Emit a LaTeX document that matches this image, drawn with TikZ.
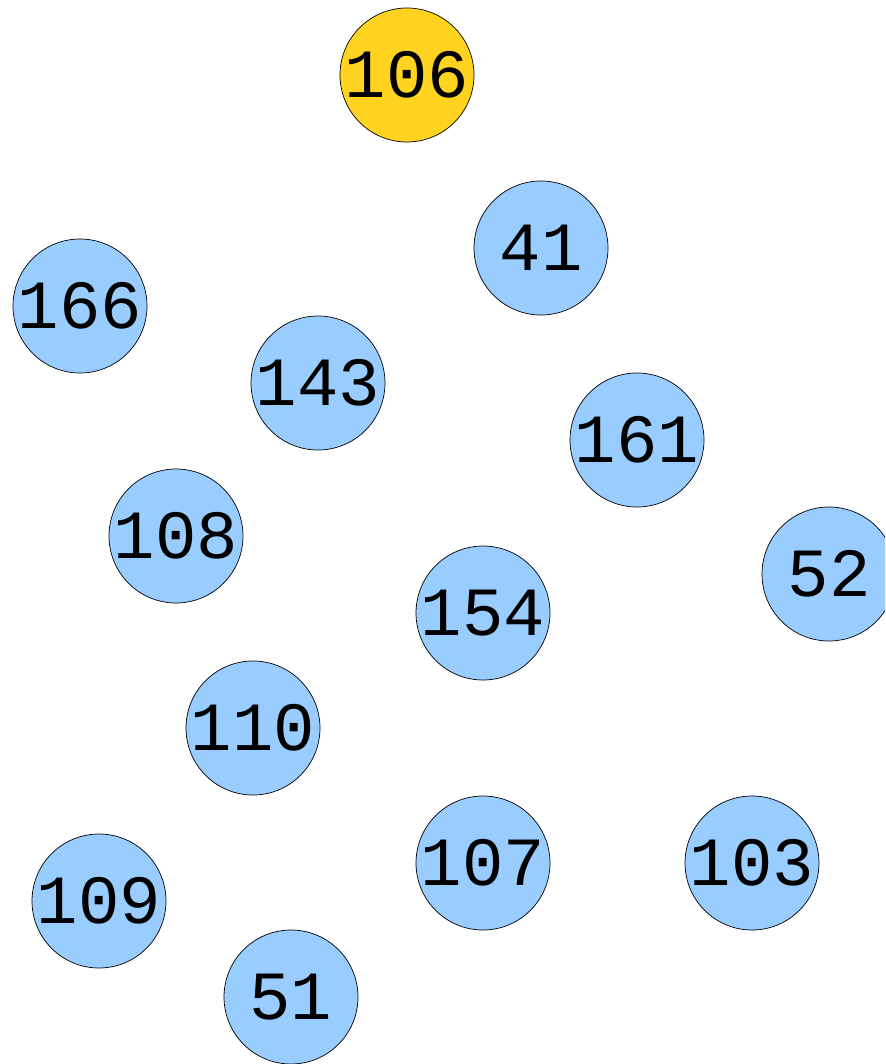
\documentclass[tikz,border=0pt]{standalone}
\usepackage{fontspec}
\setmonofont{Liberation Mono}
\definecolor{key-blue}{HTML}{99CCFF}
\definecolor{root-gold}{HTML}{FFD320}

\begin{document}
\begin{tikzpicture}[x=1pt, y=-1pt,
      every node/.style={font=\ttfamily\fontsize{69}{69}\selectfont},
      keynode/.style={circle, draw=black, line width=0.7pt, fill=key-blue,
        minimum size=134pt, inner sep=0pt},
      rootnode/.style={keynode, fill=root-gold}]
    \useasboundingbox (0,0) rectangle (885,1064);
    \clip (0,0) rectangle (885,1064);
    \node[rootnode] (n106) at (407,75) {106};
    \node[keynode] (n41) at (541,248) {41};
    \node[keynode] (n166) at (80,306) {166};
    \node[keynode] (n143) at (318,383) {143};
    \node[keynode] (n161) at (637,440) {161};
    \node[keynode] (n108) at (176,536) {108};
    \node[keynode] (n52) at (829,574) {52};
    \node[keynode] (n154) at (483,613) {154};
    \node[keynode] (n110) at (253,728) {110};
    \node[keynode] (n107) at (483,863) {107};
    \node[keynode] (n103) at (752,863) {103};
    \node[keynode] (n109) at (99,901) {109};
    \node[keynode] (n51) at (291,997) {51};
  \end{tikzpicture}
\end{document}
